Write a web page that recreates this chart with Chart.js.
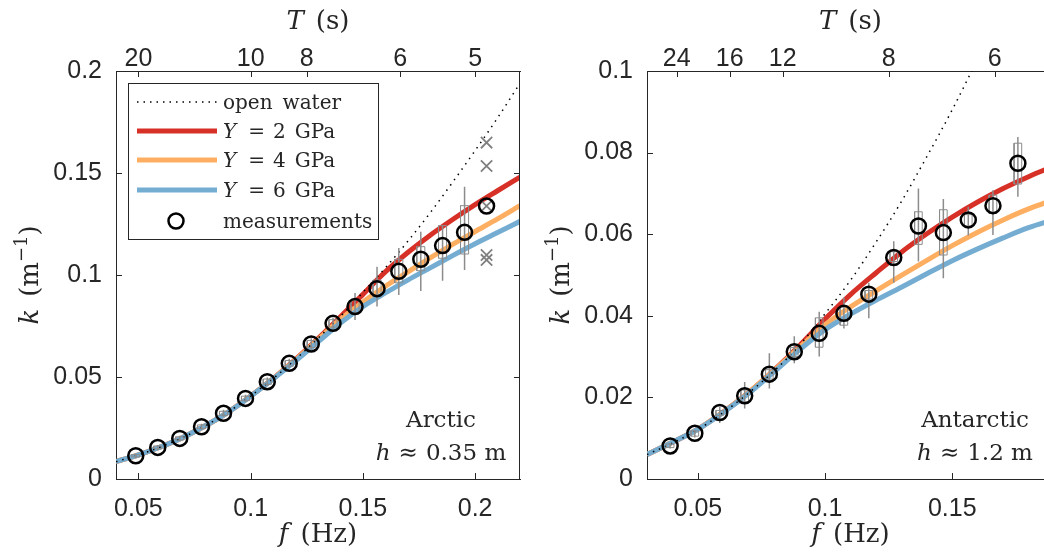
<!DOCTYPE html>
<html><head><meta charset="utf-8">
<script src="https://cdn.jsdelivr.net/npm/chart.js@4.4.1/dist/chart.umd.min.js"></script>
<style>
html,body{margin:0;padding:0;overflow:hidden;background:#fff;}
#wrap{position:relative;width:1044px;height:559px;overflow:hidden;background:#fff;}
#c1{position:absolute;left:0;top:0;}
#c2{position:absolute;left:540px;top:0;}
</style></head><body>
<div id="wrap"><canvas id="c1" width="540" height="559"></canvas><canvas id="c2" width="540" height="559"></canvas></div>
<script>
// ---------------- Arctic panel (left) ----------------
const xTicks1 = [0.05, 0.1, 0.15, 0.2];
const yTicks1 = [0, 0.05, 0.1, 0.15, 0.2];
const topT1 = [20, 10, 8, 6, 5];
const fGrid1 = [0.04,0.05,0.06,0.07,0.08,0.09,0.10,0.11,0.12,0.13,0.14,0.15,0.16,0.17,0.18,0.19,0.20,0.21,0.22];
const openWater1 = [0.0085,0.0118,0.0158,0.0205,0.0262,0.0328,0.0407,0.0492,0.0587,0.0690,0.0797,0.0915,0.1035,0.1165,0.1305,0.1455,0.1610,0.1770,0.1940];
const y2GPa1 = [0.0085,0.0118,0.0158,0.0205,0.0262,0.0328,0.0407,0.0492,0.0586,0.0688,0.0795,0.0905,0.1015,0.1110,0.1195,0.1272,0.1345,0.1413,0.1480];
const y4GPa1 = [0.0085,0.0118,0.0158,0.0205,0.0262,0.0328,0.0407,0.0492,0.0584,0.0683,0.0783,0.0868,0.0945,0.1015,0.1084,0.1150,0.1213,0.1275,0.1340];
const y6GPa1 = [0.0085,0.0118,0.0158,0.0205,0.0262,0.0328,0.0406,0.0490,0.0579,0.0672,0.0765,0.0845,0.0912,0.0975,0.1035,0.1095,0.1153,0.1208,0.1263];
const fMeas1 = [0.0488,0.0586,0.0684,0.0781,0.0879,0.0977,0.1074,0.1172,0.1270,0.1367,0.1465,0.1563,0.1660,0.1758,0.1855,0.1953,0.2051];
const kMeas1 = [0.0114,0.0155,0.0199,0.0256,0.0322,0.0395,0.0477,0.0567,0.0662,0.0763,0.0845,0.0933,0.1018,0.1077,0.1144,0.1209,0.1338];
const boxLo1 = [0.0108,0.0148,0.0191,0.0247,0.0312,0.0384,0.0464,0.0553,0.0645,0.0745,0.0814,0.0894,0.0962,0.1021,0.1082,0.1103,null];
const boxHi1 = [0.0120,0.0162,0.0207,0.0265,0.0332,0.0406,0.0490,0.0581,0.0679,0.0781,0.0877,0.0975,0.1077,0.1139,0.1242,0.1340,null];
const whLo1 = [0.0104,0.0143,0.0186,0.0241,0.0305,0.0377,0.0456,0.0544,0.0634,0.0735,0.0780,0.0845,0.0902,0.0922,0.0972,0.1025,null];
const whHi1 = [0.0124,0.0167,0.0212,0.0271,0.0339,0.0413,0.0498,0.0590,0.0690,0.0791,0.0912,0.1040,0.1132,0.1212,0.1242,0.1433,null];
const fOut1 = [0.2051,0.2051,0.2051,0.2051,0.2051];
const kOut1 = [0.1649,0.1534,0.1338,0.1098,0.1074];

// ---------------- Antarctic panel (right) ----------------
const xTicks2 = [0.05, 0.1, 0.15];
const yTicks2 = [0, 0.02, 0.04, 0.06, 0.08, 0.1];
const topT2 = [24, 16, 12, 8, 6];
const fGrid2 = [0.03,0.04,0.05,0.06,0.07,0.08,0.09,0.10,0.11,0.12,0.13,0.14,0.15,0.16,0.17,0.18,0.19];
const openWater2 = [0.0060,0.0088,0.0121,0.0163,0.0211,0.0265,0.0328,0.0405,0.0487,0.0580,0.0680,0.0790,0.0905,0.1030,0.1160,0.1300,0.1450];
const y2GPa2 = [0.0060,0.0090,0.0122,0.0164,0.0212,0.0267,0.0327,0.0392,0.0452,0.0505,0.0556,0.0601,0.0642,0.0679,0.0712,0.0741,0.0767];
const y4GPa2 = [0.0060,0.0090,0.0122,0.0164,0.0212,0.0266,0.0323,0.0378,0.0422,0.0461,0.0499,0.0536,0.0572,0.0605,0.0635,0.0662,0.0685];
const y6GPa2 = [0.0060,0.0090,0.0122,0.0163,0.0210,0.0263,0.0317,0.0366,0.0404,0.0438,0.0470,0.0503,0.0535,0.0564,0.0591,0.0616,0.0636];
const fMeas2 = [0.0391,0.0488,0.0586,0.0684,0.0781,0.0879,0.0977,0.1074,0.1172,0.1270,0.1367,0.1465,0.1563,0.1660,0.1758];
const kMeas2 = [0.0081,0.0112,0.0163,0.0204,0.0257,0.0312,0.0357,0.0406,0.0453,0.0543,0.0620,0.0604,0.0635,0.0670,0.0774];
const boxLo2 = [0.0077,0.0105,0.0156,0.0189,0.0245,0.0300,0.0323,0.0377,0.0441,0.0533,0.0575,0.0549,0.0620,0.0651,0.0723];
const boxHi2 = [0.0086,0.0118,0.0168,0.0218,0.0268,0.0322,0.0395,0.0422,0.0462,0.0557,0.0655,0.0660,0.0648,0.0696,0.0823];
const whLo2 = [0.0075,0.0102,0.0137,0.0173,0.0222,0.0284,0.0300,0.0369,0.0394,0.0481,0.0533,0.0492,0.0597,0.0598,0.0692];
const whHi2 = [0.0088,0.0121,0.0177,0.0238,0.0308,0.0350,0.0410,0.0445,0.0481,0.0583,0.0712,0.0686,0.0667,0.0708,0.0838];
const fOut2 = [];
const kOut2 = [];

// ---------------- styles ----------------
const SANS = '"Liberation Sans", Arial, Helvetica, sans-serif';
const SERIF = '"DejaVu Serif", serif';
const INK = '#262626';
const RED = 'rgb(215,48,39)';
const ORANGE = 'rgb(253,174,97)';
const BLUE = 'rgb(116,173,209)';
const GREY = 'rgb(140,140,140)';

function pts(xs, ys){ return xs.map((x,i)=>({x:x, y:ys[i]})); }
function whiskerPts(xs, lo, hi){
  const out=[];
  xs.forEach((x,i)=>{ if(lo[i]==null) return; out.push({x:x,y:lo[i]},{x:x,y:hi[i]},{x:x,y:null}); });
  return out;
}
function boxPts(xs, lo, hi, w){
  const out=[];
  xs.forEach((x,i)=>{ if(lo[i]==null) return;
    out.push({x:x-w,y:lo[i]},{x:x+w,y:lo[i]},{x:x+w,y:hi[i]},{x:x-w,y:hi[i]},{x:x-w,y:lo[i]},{x:x,y:null}); });
  return out;
}
function fmt(v){ return String(+v.toFixed(4)); }

function fontFor(p,size){ const s = p.sup ? Math.round(size*0.7) : size; return (p.it?'italic ':'') + s + 'px ' + SERIF; }
function richWidth(ctx, parts, size){
  let w=0; for(const p of parts){ if(p.gap!=null){ w+=p.gap; continue; } ctx.font=fontFor(p,size); w+=ctx.measureText(p.t).width; } return w;
}
function drawRich(ctx, parts, x, y, size, align){
  const w = richWidth(ctx, parts, size);
  let cx = align==='center' ? x-w/2 : (align==='right' ? x-w : x);
  ctx.textAlign='left'; ctx.textBaseline='alphabetic'; ctx.fillStyle=INK;
  for(const p of parts){
    if(p.gap!=null){ cx+=p.gap; continue; }
    ctx.font=fontFor(p,size);
    ctx.fillText(p.t, cx, p.sup ? y - size*0.42 : y);
    cx += ctx.measureText(p.t).width;
  }
}
function seg(ctx,x1,y1,x2,y2){ ctx.beginPath(); ctx.moveTo(x1,y1); ctx.lineTo(x2,y2); ctx.stroke(); }

function makePanel(id, P){
  const dsRed = {data:pts(P.fGrid,P.red), borderColor:RED, borderWidth:5, showLine:true, pointRadius:0, cubicInterpolationMode:'monotone', order:7, clip:0};
  const dsOrange = {data:pts(P.fGrid,P.orange), borderColor:ORANGE, borderWidth:5, showLine:true, pointRadius:0, cubicInterpolationMode:'monotone', order:6, clip:0};
  const dsBlue = {data:pts(P.fGrid,P.blue), borderColor:BLUE, borderWidth:5, showLine:true, pointRadius:0, cubicInterpolationMode:'monotone', order:5, clip:0};
  const dsOpen = {data:pts(P.fGrid,P.open), borderColor:'#000', borderWidth:1.5, borderDash:[1.5,5], showLine:true, pointRadius:0, cubicInterpolationMode:'monotone', order:4, clip:0};
  const dsWh = {data:whiskerPts(P.f,P.whLo,P.whHi), borderColor:GREY, borderWidth:1.5, showLine:true, spanGaps:false, pointRadius:0, tension:0, order:3, clip:0};
  const dsBox = {data:boxPts(P.f,P.boxLo,P.boxHi,P.boxHalf), borderColor:GREY, borderWidth:1, showLine:true, spanGaps:false, pointRadius:0, tension:0, order:2, clip:0};
  const dsOut = {data:pts(P.fOut,P.kOut), borderColor:'rgb(128,128,128)', backgroundColor:'rgba(0,0,0,0)', pointStyle:'crossRot', pointRadius:8, pointBorderWidth:1.8, showLine:false, order:1, clip:0};
  const dsMeas = {data:pts(P.f,P.k), borderColor:'#000', backgroundColor:'rgba(0,0,0,0)', pointStyle:'circle', pointRadius:7.5, pointBorderWidth:2.5, showLine:false, order:0, clip:0};

  const framePlugin = {
    id:'frame'+id,
    afterDraw(chart){
      const {ctx, chartArea:a, scales} = chart;
      ctx.save();
      ctx.strokeStyle=INK; ctx.lineWidth=1;
      const TL=6;
      const rx = Math.round(a.right)-0.5;
      seg(ctx, rx, a.top, rx, a.bottom);
      scales.x.ticks.forEach(t=>{ const p=Math.round(scales.x.getPixelForValue(t.value))+0.5; seg(ctx,p,a.bottom,p,a.bottom-TL); });
      scales.x2.ticks.forEach(t=>{ const p=Math.round(scales.x2.getPixelForValue(t.value))+0.5; seg(ctx,p,a.top,p,a.top+TL); });
      scales.y.ticks.forEach(t=>{ const p=Math.round(scales.y.getPixelForValue(t.value))+0.5; seg(ctx,a.left,p,a.left+TL,p); seg(ctx,a.right,p,a.right-TL,p); });
      const cx=(a.left+a.right)/2;
      // axis titles
      drawRich(ctx,[{t:'f',it:1},{gap:12},{t:'(Hz)'}], cx, a.bottom+63, 26, 'center');
      drawRich(ctx,[{t:'T',it:1},{gap:12},{t:'(s)'}], cx, a.top-42, 26, 'center');
      ctx.save(); ctx.translate(a.left-78, (a.top+a.bottom)/2); ctx.rotate(-Math.PI/2);
      drawRich(ctx,[{t:'k',it:1},{gap:12},{t:'(m'},{t:'\u22121',sup:1},{t:')'}], 0, 0, 26, 'center');
      ctx.restore();
      // annotation
      drawRich(ctx,[{t:P.region}], a.right-79, a.bottom-52, 23, 'center');
      drawRich(ctx,[{t:'h',it:1},{gap:8},{t:'\u2248'},{gap:8},{t:P.thick}], a.right-79, a.bottom-19, 23, 'center');
      // legend
      if(P.legend){
        const bx=a.left+12, by=a.top+12, bw=250, bh=156;
        ctx.fillStyle='#fff'; ctx.fillRect(bx,by,bw,bh);
        ctx.strokeStyle=INK; ctx.lineWidth=1; ctx.strokeRect(Math.round(bx)+0.5,Math.round(by)+0.5,bw,bh);
        const rows=[
          {ds:dsOpen, parts:[{t:'open'},{gap:10},{t:'water'}]},
          {ds:dsRed, parts:[{t:'Y',it:1},{gap:12},{t:'='},{gap:8},{t:'2'},{gap:9},{t:'GPa'}]},
          {ds:dsOrange, parts:[{t:'Y',it:1},{gap:12},{t:'='},{gap:8},{t:'4'},{gap:9},{t:'GPa'}]},
          {ds:dsBlue, parts:[{t:'Y',it:1},{gap:12},{t:'='},{gap:8},{t:'6'},{gap:9},{t:'GPa'}]},
          {ds:dsMeas, marker:true, parts:[{t:'measurements'}]}
        ];
        const rowY=[19,48,77,107,138];
        rows.forEach((r,i)=>{
          const y=by+rowY[i];
          if(r.marker){
            ctx.strokeStyle=r.ds.borderColor; ctx.lineWidth=r.ds.pointBorderWidth;
            ctx.beginPath(); ctx.arc(bx+48,y,r.ds.pointRadius,0,Math.PI*2); ctx.stroke();
          } else {
            ctx.strokeStyle=r.ds.borderColor; ctx.lineWidth=r.ds.borderWidth;
            ctx.setLineDash(r.ds.borderDash||[]);
            seg(ctx,bx+9,y,bx+89,y);
            ctx.setLineDash([]);
          }
          drawRich(ctx,r.parts,bx+95,y+7,20,'left');
        });
      }
      ctx.restore();
    }
  };

  const tickFont = {family:SANS, size:25};
  return new Chart(document.getElementById(id), {
    type:'scatter',
    data:{datasets:[dsMeas, dsOut, dsBox, dsWh, dsOpen, dsBlue, dsOrange, dsRed]},
    options:{
      responsive:false, animation:false, devicePixelRatio:1, events:[],
      layout:{padding:{left:0,right:P.padRight,top:0,bottom:0}, autoPadding:false},
      plugins:{legend:{display:false}, tooltip:{enabled:false}},
      scales:{
        x:{type:'linear', position:'bottom', min:P.xMin, max:P.xMax,
           afterBuildTicks:s=>{ s.ticks = P.xTicks.map(v=>({value:v})); },
           afterFit:s=>{ s.height=80; },
           ticks:{font:tickFont, color:INK, padding:15, maxRotation:0, autoSkip:false, callback:v=>fmt(v)},
           grid:{display:false, drawTicks:false}, border:{display:true, color:INK, width:1}},
        x2:{type:'linear', position:'top', min:P.xMin, max:P.xMax,
           afterBuildTicks:s=>{ s.ticks = P.topT.map(t=>({value:1/t})); },
           afterFit:s=>{ s.height=71; },
           ticks:{font:tickFont, color:INK, padding:-3, maxRotation:0, autoSkip:false, callback:v=>String(Math.round(1/v))},
           grid:{display:false, drawTicks:false}, border:{display:true, color:INK, width:1}},
        y:{type:'linear', position:'left', min:P.yMin, max:P.yMax,
           afterBuildTicks:s=>{ s.ticks = P.yTicks.map(v=>({value:v})); },
           afterFit:s=>{ s.width=P.yWidth; },
           ticks:{font:tickFont, color:INK, padding:14, autoSkip:false, callback:v=>fmt(v)},
           grid:{display:false, drawTicks:false}, border:{display:true, color:INK, width:1}}
      }
    },
    plugins:[framePlugin]
  });
}

makePanel('c1', {xMin:0.04, xMax:0.22, yMin:0, yMax:0.2, xTicks:xTicks1, yTicks:yTicks1, topT:topT1,
  yWidth:116, padRight:20, fGrid:fGrid1, open:openWater1, red:y2GPa1, orange:y4GPa1, blue:y6GPa1,
  f:fMeas1, k:kMeas1, boxLo:boxLo1, boxHi:boxHi1, whLo:whLo1, whHi:whHi1, fOut:fOut1, kOut:kOut1,
  boxHalf:0.0018, region:'Arctic', thick:'0.35 m', legend:true});
makePanel('c2', {xMin:0.03, xMax:0.19, yMin:0, yMax:0.1, xTicks:xTicks2, yTicks:yTicks2, topT:topT2,
  yWidth:107, padRight:26, fGrid:fGrid2, open:openWater2, red:y2GPa2, orange:y4GPa2, blue:y6GPa2,
  f:fMeas2, k:kMeas2, boxLo:boxLo2, boxHi:boxHi2, whLo:whLo2, whHi:whHi2, fOut:fOut2, kOut:kOut2,
  boxHalf:0.0015, region:'Antarctic', thick:'1.2 m', legend:false});
</script>
</body></html>
